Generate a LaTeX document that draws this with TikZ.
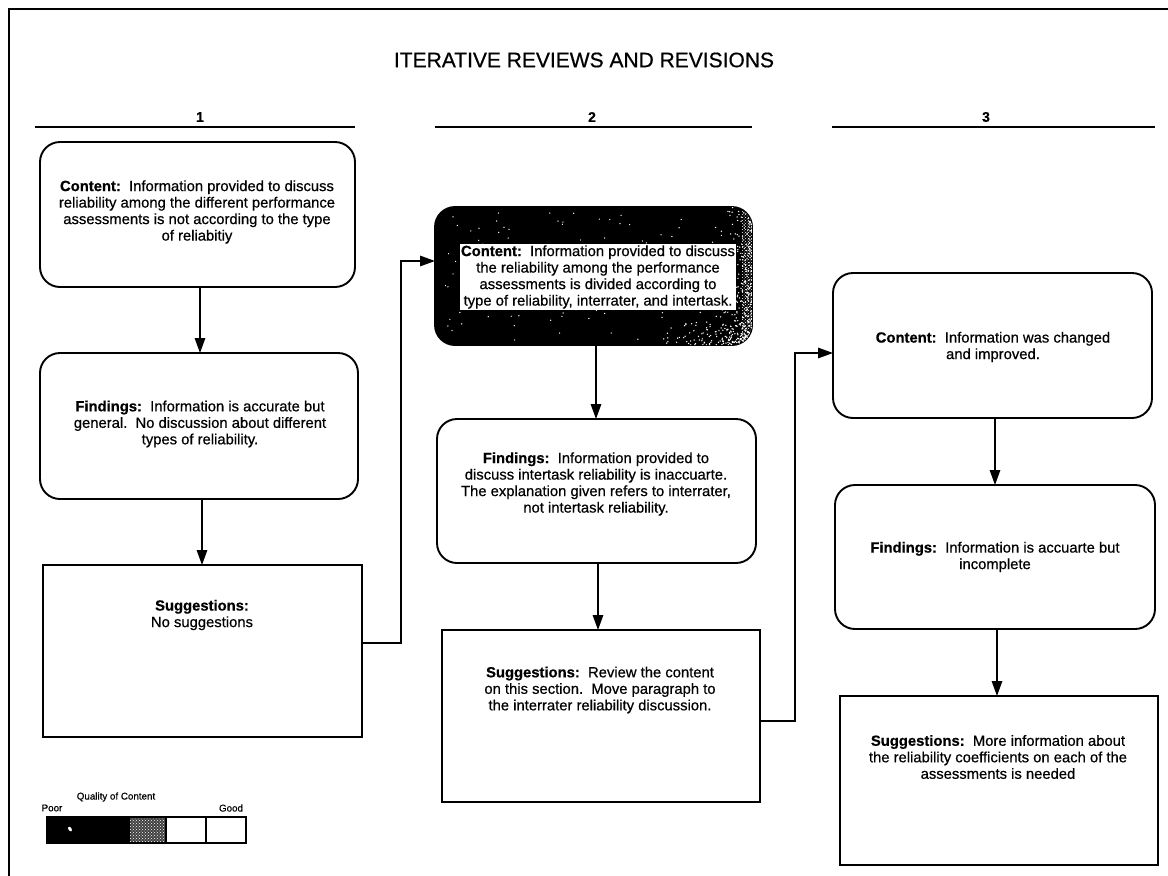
\documentclass[tikz,border=0pt]{standalone}
\usepackage{fontspec}
\setmainfont{Liberation Sans}[RawFeature={embolden=0.6}]
\usetikzlibrary{arrows.meta,patterns}

\tikzset{
  x=1pt, y=1pt,
  rbox/.style={draw, line width=1.9pt, rounded corners=20pt, inner sep=0pt, outer sep=0pt},
  sbox/.style={draw, line width=1.6pt, inner sep=0pt, outer sep=0pt},
  body/.style={align=center, inner sep=0pt, font=\fontsize{14.8}{16.5}\selectfont},
  arr/.style={line width=1.4pt, -{Triangle[length=15pt,width=10.5pt]}},
  link/.style={line width=1.4pt, -{Triangle[length=15pt,width=10.5pt]}},
  colnum/.style={font=\bfseries\fontsize{14}{16}\selectfont, inner sep=0pt},
  rule/.style={line width=1.6pt},
  small/.style={font=\fontsize{9.8}{11}\selectfont, inner sep=0pt}
}

\begin{document}
\begin{tikzpicture}
\useasboundingbox (0,0) rectangle (1168,-876);

% page frame
\draw[line width=1.8pt] (9,-876) -- (9,-9) -- (1168,-9);

% heading
\node[font=\fontsize{21}{24}\selectfont, inner sep=0pt] (title) at (584,-60) {ITERATIVE REVIEWS AND REVISIONS};

% column numbers with their rules
\node[colnum] (n1) at (200,-117) {1};
\node[colnum] (n2) at (592,-117) {2};
\node[colnum] (n3) at (986,-117) {3};
\draw[rule] (35,-127) -- (355,-127);
\draw[rule] (435,-127) -- (752,-127);
\draw[rule] (832,-127) -- (1155,-127);

% ---------- review 1 ----------
\node[rbox, minimum width=315pt, minimum height=145pt] (c1) at (197.5,-214.5) {};
\node[rbox, minimum width=318pt, minimum height=146pt] (f1) at (199,-426) {};
\node[sbox, minimum width=319pt, minimum height=172pt] (s1) at (202.5,-651) {};

\node[body] (c1t) at (197,-212) {\textbf{Content:}\ \ Information provided to discuss\\
reliability among the different performance\\
assessments is not according to the type\\
of reliabitiy};
\node[body] (f1t) at (200,-424) {\textbf{Findings:}\ \ Information is accurate but\\
general.\ \ No discussion about different\\
types of reliability.};
\node[body] (s1t) at (202,-615) {\textbf{Suggestions:}\\No suggestions};

\draw[arr] ([xshift=2.5pt]c1.south) -- ([xshift=2.5pt]c1.south |- f1.north);
\draw[arr] ([xshift=3pt]f1.south) -- ([xshift=3pt]f1.south |- s1.north);

% ---------- review 2 (dark, dithered box) ----------
\node[rbox, fill=black, minimum width=317pt, minimum height=138pt] (d2) at (593.5,-276) {};
\begin{scope}
  \clip[rounded corners=20pt] (d2.south west) rectangle (d2.north east);
  \fill[pattern=crosshatch dots, pattern color=white] (742,-200) rectangle (760,-350);
  \pgfmathsetseed{4127}
  % sparse specks over the whole box
  \foreach \i in {1,...,110}{
    \pgfmathsetmacro{\rx}{440+300*rnd}
    \pgfmathsetmacro{\ry}{-212-128*rnd}
    \fill[white] (\rx,\ry) circle (0.7pt);
  }
  % denser grain towards the right edge
  \foreach \i in {1,...,260}{
    \pgfmathsetmacro{\rx}{752-34*rnd*rnd}
    \pgfmathsetmacro{\ry}{-207-138*rnd}
    \fill[white] (\rx,\ry) circle (0.75pt);
  }
  % and along the lower right
  \foreach \i in {1,...,200}{
    \pgfmathsetmacro{\rx}{752-100*rnd*rnd}
    \pgfmathsetmacro{\ry}{-345+36*rnd*rnd}
    \fill[white] (\rx,\ry) circle (0.75pt);
  }
\end{scope}
\node[body, fill=white, inner sep=1.5pt] (d2t) at (598,-277) {\textbf{Content:}\ \ Information provided to discuss\\
the reliability among the performance\\
assessments is divided according to\\
type of reliability, interrater, and intertask.};

\node[rbox, minimum width=319pt, minimum height=144pt] (f2) at (596.5,-491) {};
\node[sbox, minimum width=318pt, minimum height=172pt] (s2) at (601,-716) {};

\node[body] (f2t) at (596,-484) {\textbf{Findings:}\ \ Information provided to\\
discuss intertask reliability is inaccuarte.\\
The explanation given refers to interrater,\\
not intertask reliability.};
\node[body] (s2t) at (600,-690) {\textbf{Suggestions:}\ \ Review the content\\
on this section.\ \ Move paragraph to\\
the interrater reliability discussion.};

\draw[arr] ([xshift=2.5pt]d2.south) -- ([xshift=2.5pt]d2.south |- f2.north);
\draw[arr] ([xshift=1.5pt]f2.south) -- ([xshift=1.5pt]f2.south |- s2.north);

% ---------- review 3 ----------
\node[rbox, minimum width=319pt, minimum height=145pt] (c3) at (992.5,-345.5) {};
\node[rbox, minimum width=320pt, minimum height=144pt] (f3) at (995,-557) {};
\node[sbox, minimum width=318pt, minimum height=169pt] (s3) at (999,-780.5) {};

\node[body] (c3t) at (993,-347) {\textbf{Content:}\ \ Information was changed\\
and improved.};
\node[body] (f3t) at (995,-557) {\textbf{Findings:}\ \ Information is accuarte but\\
incomplete};
\node[body] (s3t) at (998,-757) {\textbf{Suggestions:}\ \ More information about\\
the reliability coefficients on each of the\\
assessments is needed};

\draw[arr] ([xshift=2.5pt]c3.south) -- ([xshift=2.5pt]c3.south |- f3.north);
\draw[arr] ([xshift=2pt]f3.south) -- ([xshift=2pt]f3.south |- s3.north);

% ---------- links between reviews ----------
\coordinate (j1) at (401,-261);
\coordinate (j2) at (795,-353);
\draw[link] ([yshift=8pt]s1.east) -| (j1) -- (j1 -| d2.west);
\draw[link] ([yshift=-5pt]s2.east) -| (j2) -- (j2 -| c3.west);

% ---------- quality legend ----------
\node[small] (qual) at (116,-797) {Quality of Content};
\node[small] (poor) at (52,-808) {Poor};
\node[small] (good) at (231,-808) {Good};
\fill[black] (47,-817) rectangle (130,-843);
\fill[black!75] (130,-817) rectangle (166,-843);
\fill[pattern=crosshatch dots, pattern color=white] (130,-817) rectangle (166,-843);
\fill[white, rotate around={30:(70,-829)}] (70,-829) ellipse (1.6pt and 2.6pt);
\draw[line width=1.4pt] (47,-817) rectangle (246,-843);
\draw[line width=1.2pt] (166,-817) -- (166,-843);
\draw[line width=1.2pt] (206,-817) -- (206,-843);
\end{tikzpicture}
\end{document}
